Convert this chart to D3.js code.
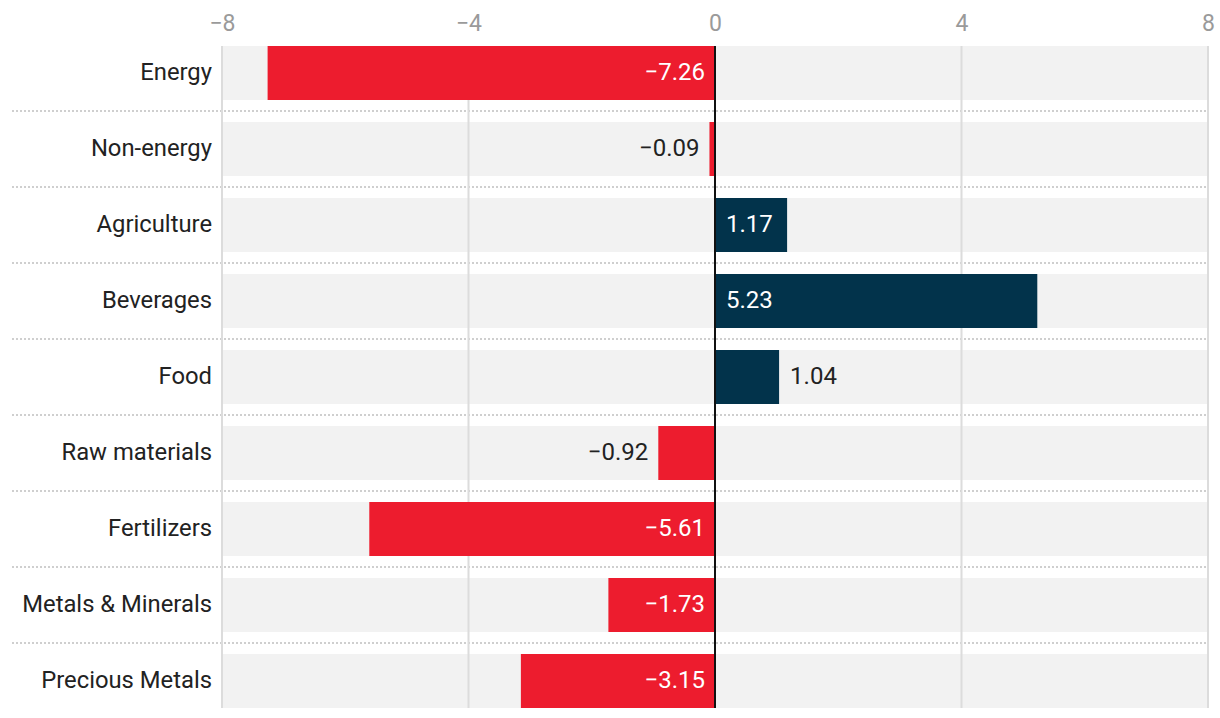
<!DOCTYPE html>
<html>
<head>
<meta charset="utf-8">
<script src="https://cdn.jsdelivr.net/npm/d3@7"></script>
<style>
  html, body { margin: 0; padding: 0; background: #fff; }
  svg { display: block; font-family: Roboto, "Noto Sans", sans-serif; }
</style>
</head>
<body>
<svg id="chart" width="1220" height="718"></svg>
<script>
const categories = ["Energy", "Non-energy", "Agriculture", "Beverages", "Food", "Raw materials", "Fertilizers", "Metals & Minerals", "Precious Metals"];
const values = [-7.26, -0.09, 1.17, 5.23, 1.04, -0.92, -5.61, -1.73, -3.15];
const tickValues = [-8, -4, 0, 4, 8];
const labelsInside = [true, false, true, true, false, false, true, true, true];

const W = 1220, H = 718;
const margin = { top: 46, right: 12, bottom: 10, left: 222 };
const svg = d3.select("#chart");

const x = d3.scaleLinear().domain([-8, 8]).range([margin.left, W - margin.right]);
const y = d3.scaleBand().domain(categories).range([margin.top, H - margin.bottom])
  .paddingInner(22 / 76).paddingOuter(0);

const data = categories.map((c, i) => ({ cat: c, v: values[i], inside: labelsInside[i] }));

// background bands
svg.append("g").selectAll("rect").data(data).join("rect")
  .attr("x", x(-8)).attr("width", x(8) - x(-8))
  .attr("y", d => y(d.cat)).attr("height", y.bandwidth())
  .attr("fill", "#f2f2f2");

// separators
const gap = y.step() - y.bandwidth();
svg.append("g").selectAll("line").data(data.slice(1)).join("line")
  .attr("x1", 12).attr("x2", x(8))
  .attr("y1", d => y(d.cat) - gap / 2).attr("y2", d => y(d.cat) - gap / 2)
  .attr("stroke", "#cfcfcf").attr("stroke-width", 2).attr("stroke-dasharray", "2,2");

// gridlines
svg.append("g").selectAll("line").data(tickValues.filter(t => t !== 0)).join("line")
  .attr("x1", d => x(d)).attr("x2", d => x(d))
  .attr("y1", margin.top).attr("y2", H - margin.bottom)
  .attr("stroke", "#dcdcdc").attr("stroke-width", 2);

// top axis labels
const fmt = d => d < 0 ? "\u2212" + Math.abs(d) : String(d);
const axis = d3.axisTop(x).tickValues(tickValues).tickSize(0).tickFormat(fmt);
const ga = svg.append("g").attr("transform", `translate(0,${margin.top})`).call(axis);
ga.select(".domain").remove();
ga.selectAll("text").attr("font-size", 23).attr("fill", "#9a9a9a")
  .attr("font-family", "Roboto, sans-serif").attr("y", -15).attr("dy", 0);

// bars
svg.append("g").selectAll("rect").data(data).join("rect")
  .attr("x", d => x(Math.min(0, d.v))).attr("width", d => Math.abs(x(d.v) - x(0)))
  .attr("y", d => y(d.cat)).attr("height", y.bandwidth())
  .attr("fill", d => d.v < 0 ? "#ed1c2e" : "#02334b");

// zero line
svg.append("line").attr("x1", x(0)).attr("x2", x(0))
  .attr("y1", margin.top).attr("y2", H - margin.bottom)
  .attr("stroke", "#111").attr("stroke-width", 2);

// category labels
svg.append("g").selectAll("text").data(data).join("text")
  .attr("x", margin.left - 10).attr("y", d => y(d.cat) + y.bandwidth() / 2 + 6.5)
  .attr("text-anchor", "end").attr("font-size", 23.8).attr("fill", "#222")
  .text(d => d.cat);

// value labels
const vfmt = v => (v < 0 ? "\u2212" : "") + Math.abs(v).toFixed(2);
svg.append("g").selectAll("text").data(data).join("text")
  .attr("x", d => {
    if (d.inside) return d.v < 0 ? x(0) - 10 : x(0) + 11;
    return d.v < 0 ? x(d.v) - 10 : x(d.v) + 11;
  })
  .attr("y", d => y(d.cat) + y.bandwidth() / 2 + 6.5)
  .attr("text-anchor", d => (d.v < 0) ? "end" : "start")
  .attr("font-size", 24)
  .attr("fill", d => d.inside ? "#fff" : "#222")
  .text(d => vfmt(d.v));
</script>
</body>
</html>
